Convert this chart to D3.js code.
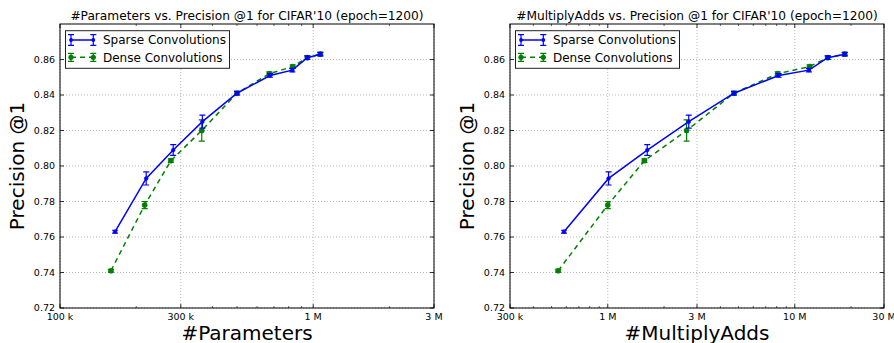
<!DOCTYPE html>
<html>
<head>
<meta charset="utf-8">
<script src="https://cdn.jsdelivr.net/npm/d3@7"></script>
<style>
  body { margin: 0; background: #fff; }
  svg { font-family: "DejaVu Sans", sans-serif; }
</style>
</head>
<body>
<svg id="chart" width="894" height="343"></svg>
<script>
// precision @1 values (shared by both panels)
const sparsePrec = [0.763, 0.793, 0.809, 0.825, 0.841, 0.851, 0.854, 0.861, 0.863];
const sparseErr  = [0.0008, 0.0037, 0.003, 0.0037, 0.001, 0.001, 0.001, 0.001, 0.001];
const densePrec  = [0.741, 0.778, 0.803, 0.820, 0.841, 0.852, 0.856, 0.861, 0.863];
const denseErr   = [0.0008, 0.002, 0.001, 0.006, 0.001, 0.001, 0.001, 0.001, 0.001];

// x values
const sparseParams = [165e3, 219e3, 280e3, 365e3, 500e3, 675e3, 827e3, 948e3, 1067e3];
const denseParams  = [159e3, 216e3, 274e3, 363e3, 500e3, 671e3, 830e3, 948e3, 1067e3];
const sparseMadds  = [583e3, 1.01e6, 1.626e6, 2.71e6, 4.73e6, 8.2e6, 11.9e6, 15.0e6, 18.5e6];
const denseMadds   = [543e3, 1.0e6, 1.57e6, 2.64e6, 4.73e6, 8.1e6, 12.0e6, 15.0e6, 18.5e6];

const paramTicks = [1e5, 3e5, 1e6, 3e6];
const paramLabels = ["100 k", "300 k", "1 M", "3 M"];
const maddTicks = [3e5, 1e6, 3e6, 1e7, 3e7];
const maddLabels = ["300 k", "1 M", "3 M", "10 M", "30 M"];
const yTicks = [0.72, 0.74, 0.76, 0.78, 0.80, 0.82, 0.84, 0.86];

const seriesNames = ["Sparse Convolutions", "Dense Convolutions"];

const svg = d3.select("#chart");

function zip(xs, ys, es) {
    return xs.map((x, i) => ({ x: x, y: ys[i], e: es[i] }));
}

function drawPanel(opts) {
    const left = opts.left, right = opts.right, top = 24, bottom = 308;
    const g = svg.append("g");

    const x = d3.scaleLog().domain(opts.xDomain).range([left, right]);
    const y = d3.scaleLinear().domain([0.72, 0.88]).range([bottom, top]);

    // grid
    g.selectAll(".gx").data(opts.ticks).enter().append("line")
        .attr("x1", d => x(d)).attr("x2", d => x(d))
        .attr("y1", top).attr("y2", bottom)
        .attr("stroke", "#888").attr("stroke-width", 0.6)
        .attr("stroke-dasharray", "1,2");
    g.selectAll(".gy").data(yTicks).enter().append("line")
        .attr("x1", left).attr("x2", right)
        .attr("y1", d => y(d)).attr("y2", d => y(d))
        .attr("stroke", "#888").attr("stroke-width", 0.6)
        .attr("stroke-dasharray", "1,2");

    // minor ticks on log axis
    const minors = [];
    const lo = Math.floor(Math.log10(opts.xDomain[0])), hi = Math.ceil(Math.log10(opts.xDomain[1]));
    for (let p = lo; p < hi; p++) {
        for (let m = 2; m <= 9; m++) {
            const v = m * Math.pow(10, p);
            if (v > opts.xDomain[0] && v < opts.xDomain[1] && !opts.ticks.includes(v)) minors.push(v);
        }
    }
    g.selectAll(".mt").data(minors).enter().append("path")
        .attr("d", d => `M${x(d)},${bottom}v-2M${x(d)},${top}v2`)
        .attr("stroke", "#000").attr("stroke-width", 0.6);

    // major ticks (inward, all sides)
    g.selectAll(".xt").data(opts.ticks).enter().append("path")
        .attr("d", d => `M${x(d)},${bottom}v-4M${x(d)},${top}v4`)
        .attr("stroke", "#000").attr("stroke-width", 0.8);
    g.selectAll(".yt").data(yTicks).enter().append("path")
        .attr("d", d => `M${left},${y(d)}h4M${right},${y(d)}h-4`)
        .attr("stroke", "#000").attr("stroke-width", 0.8);

    // tick labels
    g.selectAll(".xl").data(opts.ticks).enter().append("text")
        .attr("x", d => x(d)).attr("y", bottom + 12)
        .attr("text-anchor", "middle").attr("font-size", 9.5)
        .text((d, i) => opts.labels[i]);
    g.selectAll(".yl").data(yTicks).enter().append("text")
        .attr("x", left - 5).attr("y", d => y(d) + 3.3)
        .attr("text-anchor", "end").attr("font-size", 9.5)
        .text(d => d3.format(".2f")(d));

    // series
    const series = [
        { data: zip(opts.sparseX, sparsePrec, sparseErr), color: "#0000ff", dash: null, r: 1.9, legErr: 5.3 },
        { data: zip(opts.denseX, densePrec, denseErr), color: "#008000", dash: "5,4", r: 2.6, legErr: 4 }
    ];
    const line = d3.line().x(d => x(d.x)).y(d => y(d.y));

    // draw dense first so sparse sits on top where they overlap
    [series[1], series[0]].forEach(s => {
        g.append("path").datum(s.data)
            .attr("d", line).attr("fill", "none")
            .attr("stroke", s.color).attr("stroke-width", 1.5)
            .attr("stroke-dasharray", s.dash);
        g.selectAll(null).data(s.data).enter().append("path")
            .attr("d", d => {
                const cx = x(d.x), y0 = y(d.y - d.e), y1 = y(d.y + d.e);
                return `M${cx},${y0}V${y1}M${cx - 3},${y0}h6M${cx - 3},${y1}h6`;
            })
            .attr("stroke", s.color).attr("stroke-width", 1.2).attr("fill", "none");
        g.selectAll(null).data(s.data).enter().append("circle")
            .attr("cx", d => x(d.x)).attr("cy", d => y(d.y)).attr("r", s.r)
            .attr("fill", s.color).attr("stroke", s.color).attr("stroke-width", 0.5);
    });

    // frame
    g.append("rect").attr("x", left).attr("y", top)
        .attr("width", right - left).attr("height", bottom - top)
        .attr("fill", "none").attr("stroke", "#000").attr("stroke-width", 1);

    // legend
    const lg = g.append("g").attr("transform", `translate(${left + 5.5},${top + 6.7})`);
    lg.append("rect").attr("width", 164).attr("height", 37.6)
        .attr("fill", "#fff").attr("stroke", "#222").attr("stroke-width", 1);
    series.forEach((s, i) => {
        const cy = 9.3 + i * 17.3;
        lg.append("line").attr("x1", 5.5).attr("x2", 27.8).attr("y1", cy).attr("y2", cy)
            .attr("stroke", s.color).attr("stroke-width", 1.5).attr("stroke-dasharray", s.dash);
        [5.5, 27.8].forEach(px => {
            const e = s.legErr;
            lg.append("path")
                .attr("d", `M${px},${cy - e}V${cy + e}M${px - 3},${cy - e}h6M${px - 3},${cy + e}h6`)
                .attr("stroke", s.color).attr("stroke-width", 1.2);
            lg.append("circle").attr("cx", px).attr("cy", cy).attr("r", s.r).attr("fill", s.color);
        });
        lg.append("text").attr("x", 37.5).attr("y", cy + 4.3)
            .attr("font-size", 12).text(seriesNames[i]);
    });

    // titles
    g.append("text").attr("x", (left + right) / 2).attr("y", 20)
        .attr("text-anchor", "middle").attr("font-size", 12.2).text(opts.title);
    g.append("text").attr("x", (left + right) / 2).attr("y", 340)
        .attr("text-anchor", "middle").attr("font-size", 20).text(opts.xLabel);
    g.append("text")
        .attr("transform", `translate(${opts.yLabelX},${(top + bottom) / 2}) rotate(-90)`)
        .attr("text-anchor", "middle").attr("font-size", 20).text("Precision @1");
}

drawPanel({
    left: 60, right: 434, xDomain: [1e5, 3e6],
    ticks: paramTicks, labels: paramLabels,
    sparseX: sparseParams, denseX: denseParams,
    title: "#Parameters vs. Precision @1 for CIFAR'10 (epoch=1200)",
    xLabel: "#Parameters", yLabelX: 24
});
drawPanel({
    left: 510, right: 884, xDomain: [3e5, 3e7],
    ticks: maddTicks, labels: maddLabels,
    sparseX: sparseMadds, denseX: denseMadds,
    title: "#MultiplyAdds vs. Precision @1 for CIFAR'10 (epoch=1200)",
    xLabel: "#MultiplyAdds", yLabelX: 474
});
</script>
</body>
</html>
